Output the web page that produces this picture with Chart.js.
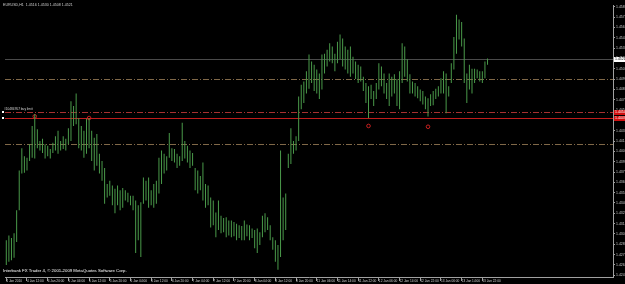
<!DOCTYPE html>
<html>
<head>
<meta charset="utf-8">
<script src="https://cdn.jsdelivr.net/npm/chart.js@4"></script>
<style>
  html, body { margin: 0; padding: 0; background: #000; }
  #wrap { width: 625px; height: 284px; }
</style>
</head>
<body>
<div id="wrap"><canvas id="graph" width="625" height="284"></canvas></div>
<script>
// EURUSD H1, 4 Jan 2010 04:00 onwards, bar highs / lows
const highs = [
  1.4293,1.4299,1.4296,1.4302,1.4331,1.4381,1.4409,1.4399,1.4397,1.4414,
  1.4437,1.4452,1.4433,1.4418,1.4421,1.4414,1.4412,1.4408,1.4416,1.4424,
  1.4431,1.4418,1.4424,1.4421,1.4434,1.4468,1.4462,1.4478,1.4447,1.4437,
  1.4431,1.4446,1.4447,1.4431,1.4422,1.4427,1.4402,1.4393,1.4384,1.4364,
  1.4368,1.4362,1.4358,1.4362,1.4356,1.4359,1.4356,1.4353,1.4349,1.4349,
  1.4343,1.4337,1.4341,1.4372,1.4368,1.4372,1.4356,1.4364,1.4368,1.4397,
  1.4406,1.4402,1.4399,1.4428,1.4409,1.4408,1.4402,1.4399,1.4441,1.4418,
  1.4412,1.4406,1.4403,1.4384,1.4381,1.4374,1.4391,1.4364,1.4362,1.4347,
  1.4343,1.4328,1.4343,1.4324,1.4321,1.4322,1.4318,1.4318,1.4316,1.4314,
  1.4312,1.4311,1.4318,1.4313,1.4312,1.4308,1.4306,1.4308,1.4303,1.4324,
  1.4327,1.4322,1.4312,1.4297,1.4293,1.4287,1.4406,1.4347,1.4352,1.4402,
  1.4434,1.4418,1.4424,1.4474,1.4489,1.4493,1.4506,1.4527,1.4518,1.4514,
  1.4508,1.4503,1.4527,1.4528,1.4533,1.4541,1.4537,1.4528,1.4543,1.4552,
  1.4547,1.4537,1.4533,1.4537,1.4524,1.4518,1.4514,1.4512,1.4499,1.4491,
  1.4487,1.4489,1.4481,1.4491,1.4516,1.4512,1.4503,1.4491,1.4503,1.4499,
  1.4502,1.4496,1.4506,1.4541,1.4537,1.4521,1.4502,1.4493,1.4491,1.4487,
  1.4483,1.4481,1.4474,1.4472,1.4477,1.4481,1.4484,1.4487,1.4497,1.4506,
  1.4503,1.4487,1.4516,1.4549,1.4577,1.4571,1.4568,1.4547,1.4503,1.4514,
  1.4509,1.4509,1.4508,1.4506,1.4506,1.4518,1.4522
];
const lows = [
  1.4262,1.4266,1.4268,1.4271,1.4291,1.4331,1.4377,1.4378,1.4381,1.4393,
  1.4397,1.4396,1.4409,1.4406,1.4403,1.4396,1.4399,1.4396,1.4403,1.4406,
  1.4402,1.4406,1.4408,1.4406,1.4414,1.4418,1.4437,1.4439,1.4409,1.4406,
  1.4397,1.4402,1.4409,1.4393,1.4381,1.4387,1.4377,1.4368,1.4339,1.4347,
  1.4349,1.4337,1.4327,1.4337,1.4331,1.4334,1.4343,1.4341,1.4337,1.4331,
  1.4277,1.4293,1.4272,1.4339,1.4343,1.4334,1.4337,1.4334,1.4339,1.4352,
  1.4364,1.4377,1.4381,1.4397,1.4393,1.4391,1.4384,1.4387,1.4393,1.4396,
  1.4391,1.4384,1.4387,1.4356,1.4352,1.4356,1.4343,1.4334,1.4337,1.4309,
  1.4312,1.4297,1.4306,1.4302,1.4303,1.4297,1.4299,1.4297,1.4298,1.4293,
  1.4296,1.4293,1.4293,1.4298,1.4293,1.4296,1.4283,1.4277,1.4287,1.4297,
  1.4303,1.4306,1.4293,1.4281,1.4266,1.4256,1.4272,1.4293,1.4306,1.4384,
  1.4389,1.4402,1.4406,1.4418,1.4458,1.4466,1.4478,1.4484,1.4491,1.4481,
  1.4478,1.4471,1.4483,1.4503,1.4512,1.4518,1.4516,1.4506,1.4516,1.4521,
  1.4512,1.4508,1.4503,1.4499,1.4503,1.4496,1.4491,1.4493,1.4481,1.4466,
  1.4447,1.4471,1.4462,1.4471,1.4483,1.4487,1.4478,1.4471,1.4462,1.4474,
  1.4478,1.4462,1.4458,1.4491,1.4499,1.4493,1.4478,1.4478,1.4474,1.4472,
  1.4468,1.4464,1.4458,1.4449,1.4462,1.4463,1.4471,1.4474,1.4478,1.4478,
  1.4453,1.4474,1.4491,1.4508,1.4528,1.4546,1.4537,1.4491,1.4466,1.4483,
  1.4478,1.4491,1.4497,1.4493,1.4491,1.4497,1.4514
];

// time axis: one label every 8 bars, empty slots on the right (chart shift)
const tickLabels = [
  '4 Jan 2010','4 Jan 12:00','4 Jan 20:00','5 Jan 04:00','5 Jan 12:00','5 Jan 20:00',
  '6 Jan 04:00','6 Jan 12:00','6 Jan 20:00','7 Jan 04:00','7 Jan 12:00','7 Jan 20:00',
  '8 Jan 04:00','8 Jan 12:00','8 Jan 20:00','11 Jan 06:00','11 Jan 14:00','11 Jan 22:00',
  '12 Jan 06:00','12 Jan 14:00','12 Jan 22:00','13 Jan 06:00','13 Jan 14:00','13 Jan 22:00'
];
const barsPerTick = 8;
const slots = 235;

// price scale
const priceTicks = [
  1.4587,1.4574,1.4561,1.4548,1.4535,1.4522,1.4509,1.4496,1.4483,1.4470,
  1.4457,1.4444,1.4431,1.4418,1.4405,1.4392,1.4379,1.4366,1.4353,1.4340,
  1.4327,1.4314,1.4301,1.4288,1.4275,1.4262,1.4249
];
const priceMin = 1.42468;
const priceMax = 1.45893;

// horizontal lines: bid, two levels, pending order, stop
const levels = [1.4521, 1.4496, 1.4454, 1.4447, 1.4414];
const levelColors = ['#4a4a4a', '#806848', '#a83030', '#c01c1c', '#806848'];
const levelDash = [[], [6, 2, 1, 2], [6, 2, 1, 2], [], [6, 2, 1, 2]];
const levelBox = [['#ffffff', '#000000'], null, ['#d01010', '#ffffff'], ['#d01010', '#ffffff'], null];

// small red order marks
const markIdx = [11, 32, 140, 163];
const markPrice = [1.4449, 1.4447, 1.4437, 1.4436];

const header = 'EURUSD,H1  1.4516 1.4530 1.4508 1.4521';
const footer = 'Interbank FX Trader 4, \u00a9 2001-2009 MetaQuotes Software Corp.';
const orderText = '#10484957 buy limit';

const labels = [];
for (let i = 0; i < slots; i++) {
  const k = i / barsPerTick;
  labels.push(Number.isInteger(k) && k < tickLabels.length ? tickLabels[k] : '');
}
const bars = lows.map((l, i) => [l, highs[i]]);
const marks = labels.map(() => null);
markIdx.forEach((idx, j) => { marks[idx] = markPrice[j]; });

const canvas = document.getElementById('graph');
const ctx = canvas.getContext('2d');

const overlay = {
  id: 'overlay',
  beforeDatasetsDraw(chart) {
    const c = chart.ctx, a = chart.chartArea, y = chart.scales.y;
    c.save();
    c.lineWidth = 1;
    levels.forEach((v, i) => {
      const py = Math.round(y.getPixelForValue(v)) + 0.5;
      c.strokeStyle = levelColors[i];
      c.setLineDash(levelDash[i]);
      c.beginPath();
      c.moveTo(a.left, py);
      c.lineTo(a.right, py);
      c.stroke();
    });
    c.restore();
  },
  afterDraw(chart) {
    const c = chart.ctx, a = chart.chartArea, y = chart.scales.y;
    c.save();
    c.font = '3.5px "Liberation Sans"';
    c.textBaseline = 'middle';
    levels.forEach((v, i) => {
      if (!levelBox[i]) return;
      const py = Math.round(y.getPixelForValue(v));
      c.fillStyle = levelBox[i][0];
      c.fillRect(a.right + 1, py - 2, 14, 5);
      c.fillStyle = levelBox[i][1];
      c.fillText(v.toFixed(4), a.right + 2, py + 0.5);
    });
    // order label on the pending line
    const oy = Math.round(y.getPixelForValue(levels[2]));
    c.font = '3.2px "Liberation Sans"';
    c.fillStyle = '#d8d8d8';
    c.fillText(orderText, 4, oy - 3);
    c.fillStyle = '#ffffff';
    c.fillRect(2, oy - 1, 2, 2);
    c.fillRect(2, Math.round(y.getPixelForValue(levels[3])) - 1, 2, 2);
    // header and footer
    c.font = '3.6px "Liberation Sans"';
    c.fillStyle = '#d0d0d0';
    c.fillText(header, 3, 5);
    c.fillStyle = '#ffffff';
    c.font = '4.3px "Liberation Sans"';
    c.fillText(footer, 3, a.bottom - 6);
    c.restore();
  }
};

new Chart(ctx, {
  type: 'bar',
  data: {
    labels: labels,
    datasets: [
      {
        data: bars,
        backgroundColor: '#4a9a4a',
        borderWidth: 0,
        barThickness: 1,
        inflateAmount: 0,
        grouped: false
      },
      {
        type: 'line',
        data: marks,
        showLine: false,
        pointStyle: 'circle',
        pointRadius: 1.8,
        pointBorderWidth: 1,
        pointBorderColor: '#c82020',
        pointBackgroundColor: 'rgba(0,0,0,0)'
      }
    ]
  },
  options: {
    responsive: false,
    animation: false,
    layout: { padding: { top: 3, left: 0, right: 0, bottom: 0 } },
    plugins: { legend: { display: false }, tooltip: { enabled: false } },
    scales: {
      x: {
        type: 'category',
        offset: true,
        grid: {
          offset: false,
          drawOnChartArea: false,
          drawTicks: true,
          tickLength: 4,
          color: c => (c.tick && c.tick.label) ? '#a0a0a0' : 'rgba(0,0,0,0)'
        },
        border: { color: '#a0a0a0', width: 1 },
        ticks: {
          autoSkip: false,
          maxRotation: 0,
          minRotation: 0,
          align: 'start',
          padding: -2,
          color: '#d0d0d0',
          font: { size: 3.2, family: 'Liberation Sans' }
        },
        afterFit: s => { s.height = 7; }
      },
      y: {
        position: 'right',
        min: priceMin,
        max: priceMax,
        beginAtZero: false,
        afterBuildTicks: s => { s.ticks = priceTicks.map(v => ({ value: v })); },
        grid: { drawOnChartArea: false, tickLength: 2, color: '#a0a0a0' },
        border: { color: '#a0a0a0', width: 1 },
        ticks: {
          autoSkip: false,
          padding: 1,
          color: '#c8c8c8',
          font: { size: 3.5, family: 'Liberation Sans' },
          callback: v => v.toFixed(4)
        },
        afterFit: s => { s.width = 12; }
      }
    }
  },
  plugins: [overlay]
});
</script>
</body>
</html>
